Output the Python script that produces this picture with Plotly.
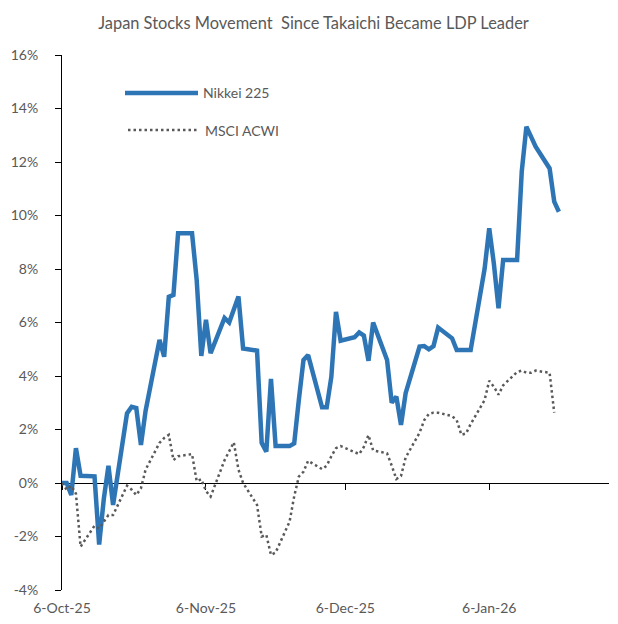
import plotly.graph_objects as go

# ---------------- data ----------------
nikkei_dates = [
    "2025-10-06", "2025-10-07", "2025-10-08", "2025-10-09", "2025-10-10",
    "2025-10-13", "2025-10-14", "2025-10-15", "2025-10-16", "2025-10-17",
    "2025-10-20", "2025-10-21", "2025-10-22", "2025-10-23", "2025-10-24",
    "2025-10-27", "2025-10-28", "2025-10-29", "2025-10-30", "2025-10-31",
    "2025-11-03", "2025-11-04", "2025-11-05", "2025-11-06", "2025-11-07",
    "2025-11-10", "2025-11-11", "2025-11-12", "2025-11-13", "2025-11-14",
    "2025-11-17", "2025-11-18", "2025-11-19", "2025-11-20", "2025-11-21",
    "2025-11-24", "2025-11-25", "2025-11-26", "2025-11-27", "2025-11-28",
    "2025-12-01", "2025-12-02", "2025-12-03", "2025-12-04", "2025-12-05",
    "2025-12-08", "2025-12-09", "2025-12-10", "2025-12-11", "2025-12-12",
    "2025-12-15", "2025-12-16", "2025-12-17", "2025-12-18", "2025-12-19",
    "2025-12-22", "2025-12-23", "2025-12-24", "2025-12-25", "2025-12-26",
    "2025-12-29", "2025-12-30", "2025-12-31", "2026-01-01", "2026-01-02",
    "2026-01-05", "2026-01-06", "2026-01-07", "2026-01-08", "2026-01-09",
    "2026-01-12", "2026-01-13", "2026-01-14", "2026-01-15", "2026-01-16",
    "2026-01-19", "2026-01-20", "2026-01-21",
]
nikkei_225 = [
    0.00, 0.00, -0.45, 1.30, 0.27,
    0.25, -2.30, -0.60, 0.64, -0.82,
    2.60, 2.85, 2.80, 1.42, 2.70,
    5.35, 4.72, 6.96, 7.03, 9.34,
    9.34, 7.60, 4.75, 6.10, 4.85,
    6.17, 6.00, 6.50, 6.97, 5.03,
    4.95, 1.50, 1.17, 3.89, 1.38,
    1.38, 1.48, 3.10, 4.60, 4.78,
    2.83, 2.83, 3.97, 6.40, 5.32,
    5.45, 5.63, 5.51, 4.57, 6.00,
    4.60, 3.00, 3.23, 2.17, 3.36,
    5.10, 5.12, 5.00, 5.12, 5.81,
    5.41, 4.97, 4.97, 4.97, 4.97,
    8.00, 9.52, 8.20, 6.53, 8.34,
    8.34, 11.64, 13.32, 12.95, 12.57,
    11.76, 10.52, 10.14,
]

msci_dates = nikkei_dates[:-1]
msci_acwi = [
    0.00, -0.25, -0.10, -0.40, -2.38,
    -1.60, -1.70, -1.45, -1.20, -1.20,
    -0.10, -0.25, -0.45, -0.20, 0.50,
    1.50, 1.68, 1.80, 0.86, 1.00,
    1.08, 0.07, 0.14, -0.30, -0.51,
    0.85, 1.20, 1.52, 0.50, 0.00,
    -0.82, -2.00, -1.94, -2.69, -2.60,
    -1.45, -0.50, 0.24, 0.42, 0.83,
    0.52, 0.65, 1.00, 1.30, 1.38,
    1.15, 1.08, 1.35, 1.79, 1.22,
    1.11, 0.65, 0.15, 0.26, 0.95,
    1.88, 2.35, 2.58, 2.63, 2.63,
    2.50, 2.35, 1.80, 1.85, 2.20,
    3.10, 3.82, 3.60, 3.30, 3.65,
    4.15, 4.20, 4.12, 4.12, 4.20,
    4.12, 2.63,
]

x_tick_dates = ["2025-10-06", "2025-11-06", "2025-12-06", "2026-01-06"]
x_tick_labels = ["6-Oct-25", "6-Nov-25", "6-Dec-25", "6-Jan-26"]
y_tick_vals = [-4, -2, 0, 2, 4, 6, 8, 10, 12, 14, 16]
y_tick_labels = [f"{v}%" for v in y_tick_vals]

series_names = ["Nikkei 225", "MSCI ACWI"]
title_text = "Japan Stocks Movement  Since Takaichi Became LDP Leader"

# ---------------- styling ----------------
FONT = "Lato"
TXT = "#595959"
BLUE = "#2E75B6"
GREY = "#595959"
Y_MIN, Y_MAX = -4, 16
X_RANGE = ["2025-10-06", "2026-01-31 19:00"]

# page body has an 8px margin: figure is sized/offset to compensate
OFF = 8
FIG_W, FIG_H = 618 - OFF, 624 - OFF
L, T = 62 - OFF, 55 - OFF
PLOT_W, PLOT_H = 547.0, 535.0
R = FIG_W - L - PLOT_W
B = FIG_H - T - PLOT_H

fig = go.Figure()
fig.add_trace(go.Scatter(
    x=nikkei_dates, y=nikkei_225, mode="lines", name=series_names[0],
    line=dict(color=BLUE, width=4.5), xaxis="x", yaxis="y",
    showlegend=False, hoverinfo="skip"))
fig.add_trace(go.Scatter(
    x=msci_dates, y=msci_acwi, mode="lines", name=series_names[1],
    line=dict(color=GREY, width=2.5, dash="2.5px,3px"), xaxis="x2", yaxis="y",
    showlegend=False, hoverinfo="skip"))

zero_pos = (0 - Y_MIN) / (Y_MAX - Y_MIN)


def px(x):
    """page x pixel -> paper fraction"""
    return (x - OFF - L) / PLOT_W


def py(y):
    """page y pixel -> paper fraction"""
    return (T + PLOT_H - (y - OFF)) / PLOT_H


fig.update_layout(
    width=FIG_W, height=FIG_H,
    margin=dict(l=L, r=R, t=T, b=B, autoexpand=False),
    paper_bgcolor="white", plot_bgcolor="white",
    font=dict(family=FONT, size=14, color=TXT),
    title=dict(text=title_text, x=px(313.5), xref="paper", xanchor="center",
               y=1 - (23 - OFF) / FIG_H, yref="container", yanchor="middle",
               font=dict(family=FONT, size=16.4, color=TXT)),
    xaxis=dict(type="date", range=X_RANGE, showline=False, showgrid=False,
               zeroline=False, tickmode="array", tickvals=x_tick_dates,
               ticktext=x_tick_labels, ticks="", ticklabelstandoff=8,
               automargin=False,
               tickfont=dict(family=FONT, size=14, color=TXT)),
    xaxis2=dict(type="date", range=X_RANGE, overlaying="x", matches="x",
                anchor="free", position=zero_pos, side="bottom",
                showline=True, linecolor="#000000", linewidth=1,
                ticks="outside", ticklen=6, tickcolor="#000000",
                tickmode="array", tickvals=x_tick_dates,
                showticklabels=False, showgrid=False, zeroline=False,
                automargin=False, layer="below traces"),
    yaxis=dict(range=[Y_MIN, Y_MAX], tickmode="array", tickvals=y_tick_vals,
               ticktext=y_tick_labels, showline=True, linecolor="#000000",
               linewidth=1, ticks="outside", ticklen=6, tickcolor="#000000",
               showgrid=False, zeroline=False, ticklabelstandoff=14,
               automargin=False,
               tickfont=dict(family=FONT, size=14, color=TXT)),
)

# ---------------- manual legend ----------------
fig.add_shape(type="line", xref="paper", yref="paper",
              x0=px(125), x1=px(198), y0=py(93), y1=py(93),
              line=dict(color=BLUE, width=4.5))
fig.add_shape(type="line", xref="paper", yref="paper",
              x0=px(128), x1=px(198), y0=py(130), y1=py(130),
              line=dict(color=GREY, width=2.5, dash="2.5px,3px"))
fig.add_annotation(text=series_names[0], xref="paper", yref="paper",
                   x=px(201), y=py(93), xanchor="left", yanchor="middle",
                   showarrow=False, font=dict(family=FONT, size=14, color=TXT))
fig.add_annotation(text=series_names[1], xref="paper", yref="paper",
                   x=px(203), y=py(130), xanchor="left", yanchor="middle",
                   showarrow=False, font=dict(family=FONT, size=14, color=TXT))

fig.write_html("out.html")
